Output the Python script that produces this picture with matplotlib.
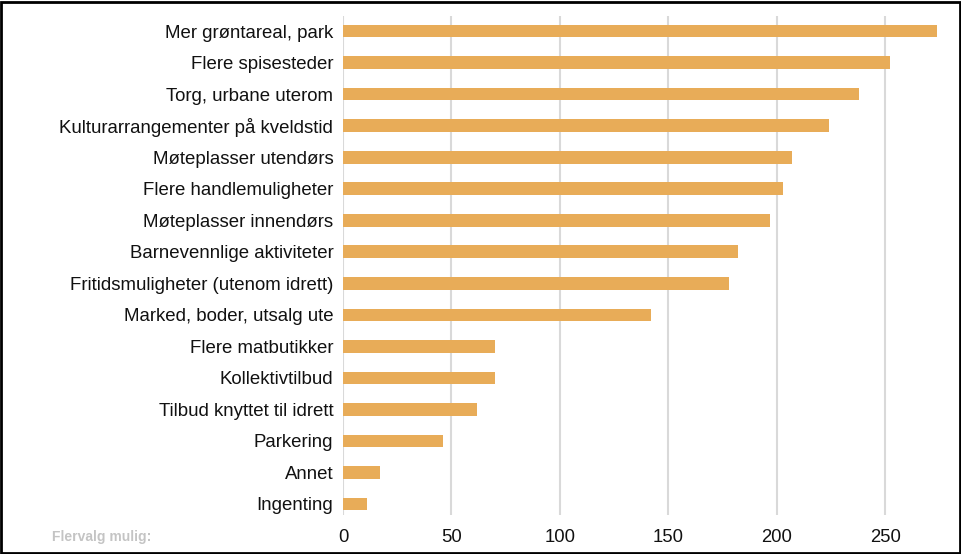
import matplotlib.pyplot as plt
from matplotlib.patches import Rectangle

kategorier = [
    "Mer grøntareal, park",
    "Flere spisesteder",
    "Torg, urbane uterom",
    "Kulturarrangementer på kveldstid",
    "Møteplasser utendørs",
    "Flere handlemuligheter",
    "Møteplasser innendørs",
    "Barnevennlige aktiviteter",
    "Fritidsmuligheter (utenom idrett)",
    "Marked, boder, utsalg ute",
    "Flere matbutikker",
    "Kollektivtilbud",
    "Tilbud knyttet til idrett",
    "Parkering",
    "Annet",
    "Ingenting",
]
antall = [274, 252, 238, 224, 207, 203, 197, 182, 178, 142, 70, 70, 62, 46, 17, 11]
xticks = [0, 50, 100, 150, 200, 250]

plt.rcParams['font.family'] = ['Liberation Sans', 'DejaVu Sans']

fig = plt.figure(figsize=(9.62, 5.54), dpi=100)
ax = fig.add_axes([343 / 962, 39 / 554, 603 / 962, 499 / 554])

y = list(range(len(kategorier)))
ax.barh(y, antall, height=0.40, color='#E8AC58', zorder=3)

ax.set_xlim(0, 278)
ax.set_ylim(len(kategorier) - 1 + 0.35, -0.48)
ax.set_yticks(y)
ax.set_yticklabels(kategorier, fontsize=13.4, color='#111111')
ax.set_xticks(xticks)
ax.set_xticklabels([str(t) for t in xticks], fontsize=13.3, color='#111111')
ax.tick_params(axis='both', length=0)
ax.tick_params(axis='y', pad=7)
ax.tick_params(axis='x', pad=10)
ax.grid(axis='x', color='#d9d9d9', linewidth=1.5, zorder=0)
for s in ax.spines.values():
    s.set_visible(False)

fig.text(52 / 962, 1 - 537 / 554, "Flervalg mulig:", fontsize=10, color='#c4c4c4',
         fontweight='bold', va='center', ha='left')

# ramme rundt hele bildet
fig.patches.append(Rectangle((0.001, 0.002), 0.997, 0.995, transform=fig.transFigure,
                             fill=False, edgecolor='black', linewidth=2))

fig.savefig('out.png', dpi=100)
